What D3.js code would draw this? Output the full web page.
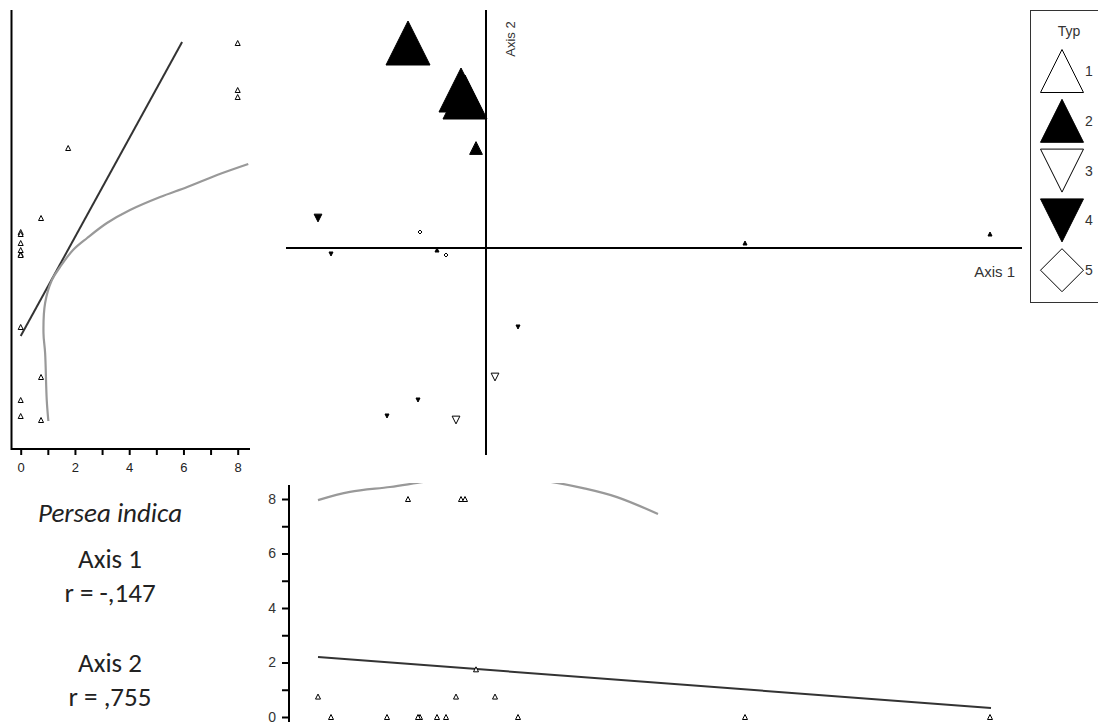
<!DOCTYPE html>
<html>
<head>
<meta charset="utf-8">
<script src="https://cdn.jsdelivr.net/npm/d3@7"></script>
<style>
  body { margin: 0; background: #fff; }
  svg { display: block; }
</style>
</head>
<body>
<svg id="main"></svg>
<script>
// plot scores on the two ordination axes, Typ group and Persea indica cover
var axis1 = [-1.56, -0.50, -0.42, -0.20, -3.36, -1.32, -3.10, -0.80, -0.98, 5.18, 10.08, 0.64, 0.18, -1.36, -1.98, -0.60];
var axis2 = [4.10, 3.16, 3.02, 2.00, 0.60, 0.32, -0.12, -0.14, -0.04, 0.10, 0.28, -1.58, -2.58, -3.04, -3.36, -3.44];
var typ = [2, 2, 2, 2, 4, 5, 4, 5, 1, 1, 1, 4, 3, 4, 4, 3];
var cover = [8, 8, 8, 1.75, 0.75, 0, 0, 0, 0, 0, 0, 0, 0.75, 0, 0, 0.75];

var typLabels = ["1", "2", "3", "4", "5"];
var coverTicks = [0, 1, 2, 3, 4, 5, 6, 7, 8];

// fitted lines (cover vs axis 2 on the left, axis 1 vs cover below)
var leftLine = [[0, -1.76], [5.95, 4.12]];
var leftCurve = [[1.02, -3.46], [0.96, -3.04], [0.90, -2.10], [0.84, -1.70], [0.90, -1.10], [1.15, -0.64],
  [1.45, -0.38], [1.93, -0.04], [2.45, 0.20], [3.18, 0.50], [4.03, 0.76], [5.14, 1.02], [6.14, 1.22],
  [7.24, 1.46], [8.39, 1.68]];
var bottomLine = [[-3.36, 2.20], [10.10, 0.33]];
var bottomCurve = [[-3.36, 7.96], [-2.72, 8.26], [-1.92, 8.44], [-1.38, 8.59], [-0.7, 8.78], [0, 8.84],
  [0.7, 8.78], [1.42, 8.59], [1.94, 8.40], [2.62, 8.07], [3.44, 7.45]];

var w = 1098;
var h = 722;

var svg = d3.select("#main")
  .attr("width", w)
  .attr("height", h);

var font = "'Liberation Sans', Arial, sans-serif";

var x1 = d3.scaleLinear().domain([-4, 10.72]).range([286, 1022]);
var y2 = d3.scaleLinear().domain([4.76, -4.14]).range([10, 455]);
var xc = d3.scaleLinear().domain([0, 8]).range([20.7, 237.7]);
var yc = d3.scaleLinear().domain([0, 8]).range([717, 499]);
var size = d3.scaleLinear().domain([0, 8]).range([4, 44]);

// s = width/height of the symbol, centred on its box
function symbolPath(t, s) {
  var r = s / 2;
  if (t == 1 || t == 2) return "M0," + (-r) + "L" + r + "," + r + "L" + (-r) + "," + r + "Z";
  if (t == 3 || t == 4) return "M0," + r + "L" + r + "," + (-r) + "L" + (-r) + "," + (-r) + "Z";
  return "M0," + (-r) + "L" + r + ",0L0," + r + "L" + (-r) + ",0Z";
}
function filled(t) { return t == 2 || t == 4; }

var idx = d3.range(axis1.length);

// ---- main ordination plot ----
svg.append("line")
  .attr("x1", x1(-4)).attr("x2", x1(10.72))
  .attr("y1", y2(0)).attr("y2", y2(0))
  .attr("stroke", "#000").attr("stroke-width", 2);
svg.append("line")
  .attr("x1", x1(0)).attr("x2", x1(0))
  .attr("y1", y2(4.76)).attr("y2", y2(-4.14))
  .attr("stroke", "#000").attr("stroke-width", 2);

svg.append("text")
  .attr("transform", "translate(" + (x1(0) + 29) + "," + 39 + ") rotate(-90)")
  .attr("text-anchor", "middle")
  .attr("font-family", font).attr("font-size", 13).attr("fill", "#333")
  .text("Axis 2");
svg.append("text")
  .attr("x", 1015).attr("y", 277)
  .attr("text-anchor", "end")
  .attr("font-family", font).attr("font-size", 15).attr("fill", "#333")
  .text("Axis 1");

svg.selectAll("path.pt")
  .data(idx)
  .enter()
  .append("path")
  .attr("class", "pt")
  .attr("transform", function(i) { return "translate(" + x1(axis1[i]) + "," + y2(axis2[i]) + ")"; })
  .attr("d", function(i) { return symbolPath(typ[i], size(cover[i])); })
  .attr("fill", function(i) { return filled(typ[i]) || cover[i] == 0 && typ[i] != 5 ? "#000" : "#fff"; })
  .attr("stroke", "#000")
  .attr("stroke-width", 1);

// ---- legend ----
var lg = svg.append("g");
lg.append("rect")
  .attr("x", 1030.5).attr("y", 10.5)
  .attr("width", 80).attr("height", 292)
  .attr("fill", "#fff").attr("stroke", "#333").attr("stroke-width", 1);
lg.append("text")
  .attr("x", 1069).attr("y", 36)
  .attr("text-anchor", "middle")
  .attr("font-family", font).attr("font-size", 14).attr("fill", "#333")
  .text("Typ");
typLabels.forEach(function(lab, k) {
  var cy = 71 + k * 49.8;
  lg.append("path")
    .attr("transform", "translate(1062," + cy + ")")
    .attr("d", symbolPath(k + 1, 43))
    .attr("fill", filled(k + 1) ? "#000" : "#fff")
    .attr("stroke", "#000").attr("stroke-width", 1);
  lg.append("text")
    .attr("x", 1085).attr("y", cy + 5)
    .attr("font-family", font).attr("font-size", 14).attr("fill", "#333")
    .text(lab);
});

// ---- left panel: cover vs axis 2 ----
var left = svg.append("g");
left.append("line")
  .attr("x1", 11.5).attr("x2", 11.5).attr("y1", 10).attr("y2", 450)
  .attr("stroke", "#000").attr("stroke-width", 2);
left.append("line")
  .attr("x1", 11).attr("x2", 250).attr("y1", 449).attr("y2", 449)
  .attr("stroke", "#000").attr("stroke-width", 2);

var xAxisL = d3.axisBottom(xc)
  .tickValues(coverTicks)
  .tickSize(6)
  .tickSizeOuter(0)
  .tickFormat(function(d) { return d % 2 == 0 ? d : ""; });
var gxl = left.append("g")
  .attr("transform", "translate(0,449)")
  .call(xAxisL);
gxl.select(".domain").remove();
gxl.selectAll(".tick line").attr("stroke", "#000").attr("stroke-width", 2);
gxl.selectAll(".tick text")
  .attr("y", 14)
  .attr("font-family", font).attr("font-size", 13).attr("fill", "#222");

left.append("path")
  .attr("d", d3.line().x(function(d) { return xc(d[0]); }).y(function(d) { return y2(d[1]); })(leftLine))
  .attr("fill", "none").attr("stroke", "#333").attr("stroke-width", 2);
left.append("path")
  .attr("d", d3.line().curve(d3.curveCatmullRom)
    .x(function(d) { return xc(d[0]); }).y(function(d) { return y2(d[1]); })(leftCurve))
  .attr("fill", "none").attr("stroke", "#999").attr("stroke-width", 2.2);

left.selectAll("path.lp")
  .data(idx)
  .enter()
  .append("path")
  .attr("class", "lp")
  .attr("transform", function(i) { return "translate(" + xc(cover[i]) + "," + y2(axis2[i]) + ")"; })
  .attr("d", symbolPath(1, 5))
  .attr("fill", "#fff").attr("stroke", "#000").attr("stroke-width", 1);

// ---- bottom panel: axis 1 vs cover ----
var bottom = svg.append("g");
svg.append("clipPath").attr("id", "bclip")
  .append("rect").attr("x", 289).attr("y", 483).attr("width", 809).attr("height", 239);

var yAxisB = d3.axisLeft(yc)
  .tickValues(coverTicks)
  .tickSize(7)
  .tickSizeOuter(0)
  .tickFormat(function(d) { return d % 2 == 0 ? d : ""; });
var gyb = bottom.append("g")
  .attr("transform", "translate(289,0)")
  .call(yAxisB);
gyb.select(".domain").remove();
gyb.selectAll(".tick line").attr("stroke", "#000").attr("stroke-width", 2);
gyb.selectAll(".tick text")
  .attr("x", -13)
  .attr("font-family", font).attr("font-size", 14).attr("fill", "#333");
bottom.append("line")
  .attr("x1", 289).attr("x2", 289).attr("y1", 485).attr("y2", 722)
  .attr("stroke", "#000").attr("stroke-width", 2);

bottom.append("path")
  .attr("clip-path", "url(#bclip)")
  .attr("d", d3.line().curve(d3.curveCatmullRom)
    .x(function(d) { return x1(d[0]); }).y(function(d) { return yc(d[1]); })(bottomCurve))
  .attr("fill", "none").attr("stroke", "#999").attr("stroke-width", 2.2);
bottom.append("path")
  .attr("d", d3.line().x(function(d) { return x1(d[0]); }).y(function(d) { return yc(d[1]); })(bottomLine))
  .attr("fill", "none").attr("stroke", "#333").attr("stroke-width", 2);

bottom.selectAll("path.bp")
  .data(idx)
  .enter()
  .append("path")
  .attr("class", "bp")
  .attr("transform", function(i) { return "translate(" + x1(axis1[i]) + "," + yc(cover[i]) + ")"; })
  .attr("d", symbolPath(1, 5))
  .attr("fill", "#fff").attr("stroke", "#000").attr("stroke-width", 1);

// ---- species text ----
var tf = "Carlito, 'Open Sans', 'Noto Sans', sans-serif";
var notes = [
  { t: "Persea indica", y: 522, it: true },
  { t: "Axis 1", y: 568 },
  { t: "r = -,147", y: 602 },
  { t: "Axis 2", y: 672 },
  { t: "r = ,755", y: 706 }
];
svg.selectAll("text.note")
  .data(notes)
  .enter()
  .append("text")
  .attr("class", "note")
  .attr("x", 110).attr("y", function(d) { return d.y; })
  .attr("text-anchor", "middle")
  .attr("font-family", tf).attr("font-size", 27)
  .attr("font-style", function(d) { return d.it ? "italic" : "normal"; })
  .attr("fill", "#222")
  .text(function(d) { return d.t; });
</script>
</body>
</html>
